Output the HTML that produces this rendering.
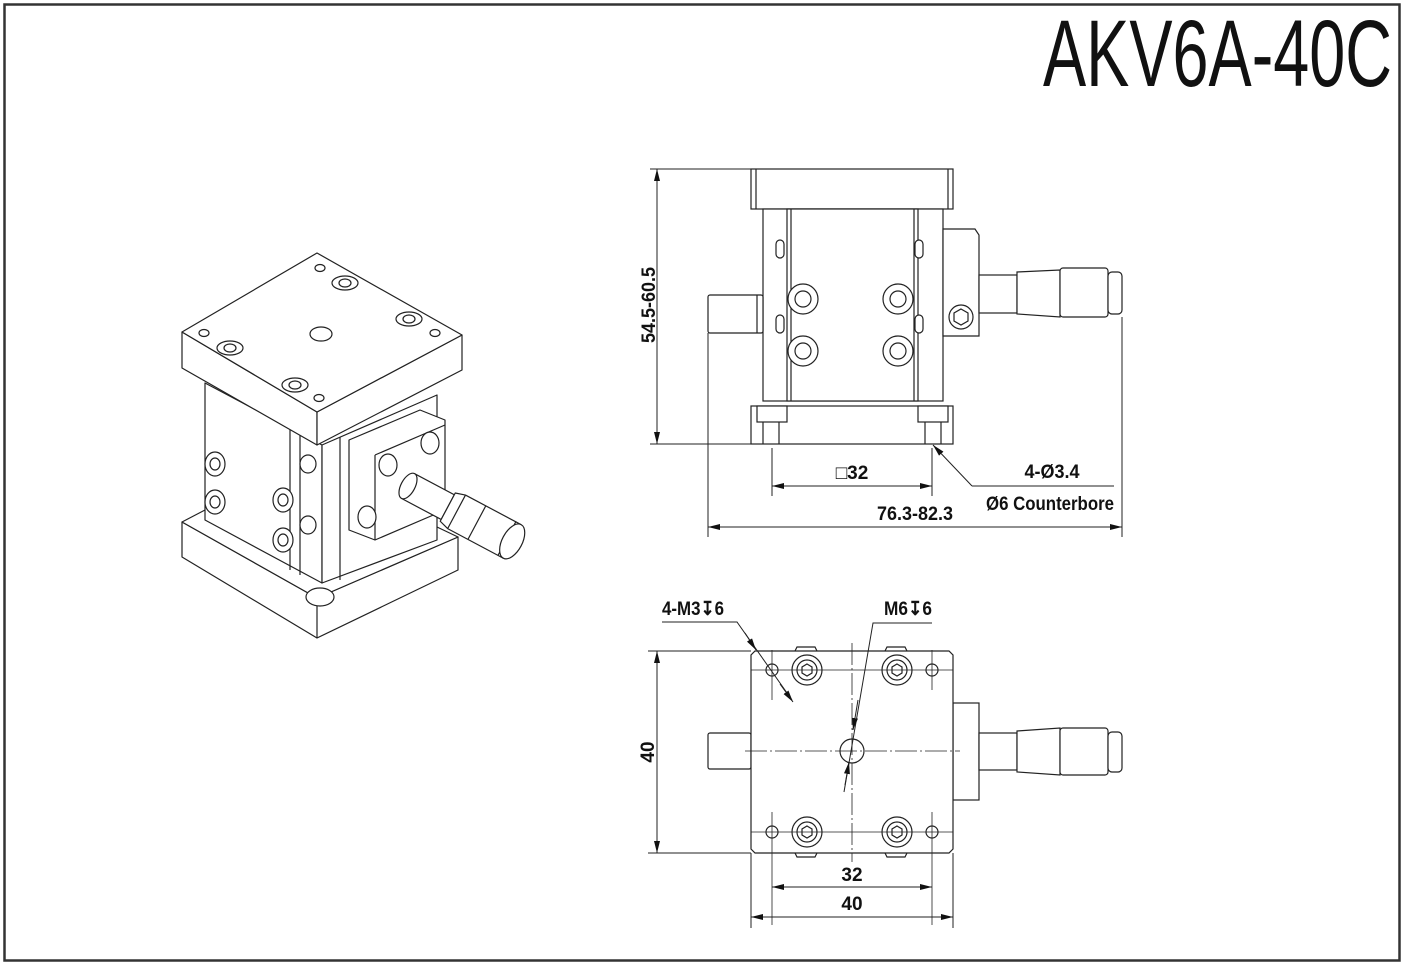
<!DOCTYPE html>
<html><head><meta charset="utf-8"><style>
html,body{margin:0;padding:0;background:#fff}
svg{display:block}
text{font-family:"Liberation Sans",sans-serif;font-weight:bold;fill:#111}
</style></head><body>
<svg width="1404" height="964" viewBox="0 0 1404 964" xmlns="http://www.w3.org/2000/svg">
<defs>
<marker id="ar" markerWidth="12" markerHeight="6" refX="12" refY="3" orient="auto" markerUnits="userSpaceOnUse"><path d="M0,0 L12,3 L0,6 z" fill="#111"/></marker>
</defs>
<rect x="4.5" y="4.5" width="1395" height="956" fill="none" stroke="#333" stroke-width="2.5"/>
<text x="1043" y="86" font-size="95" textLength="349" lengthAdjust="spacingAndGlyphs" style="font-weight:normal">AKV6A-40C</text>

<!-- Isometric view -->
<g fill="#fff" stroke="#222" stroke-width="1.2" stroke-linejoin="round">
 <path d="M182,522 L317,598 L458,537 L458,570 L317,638 L182,557 Z"/>
 <path d="M182,522 L205,510 L322,575 L437,527 L458,537 L317,598 Z"/>
 <path d="M317,598 L317,638"/>
 <ellipse cx="320" cy="597" rx="14" ry="9"/>
 <path d="M205,383 L322,445 L322,583 L205,520 Z"/>
 <path d="M322,445 L437,395 L437,540 L322,583 Z"/>
 <path d="M290,430 L290,570 M300,435 L300,575"/>
 <path d="M340,437 L340,580"/>
 <path d="M349,440 L420,410 L445,420 L445,510 L375,540 L349,530 Z"/>
 <path d="M375,455 L445,425 M375,455 L375,540"/>
 <g transform="translate(408,486) rotate(28)">
  <rect x="0" y="-14" width="45" height="28"/>
  <ellipse cx="0" cy="0" rx="7" ry="14"/>
  <path d="M45,-16 L55,-19 L112,-19 L112,19 L55,19 L45,16 Z"/>
  <line x1="55" y1="-19" x2="55" y2="19"/><line x1="78" y1="-19" x2="78" y2="19"/>
  <ellipse cx="118" cy="0" rx="10" ry="19"/>
  <path d="M112,-19 L118,-19 M112,19 L118,19"/>
 </g>
 <path d="M182,332 L317,412 L317,445 L182,368 Z"/>
 <path d="M317,412 L462,335 L462,370 L317,445 Z"/>
 <path d="M317,253 L462,335 L317,412 L182,332 Z"/>
 <ellipse cx="321" cy="334" rx="11" ry="7"/>
 <ellipse cx="320" cy="268" rx="5" ry="3.5"/>
 <ellipse cx="204" cy="333" rx="5" ry="3.5"/>
 <ellipse cx="319" cy="398" rx="5" ry="3.5"/>
 <ellipse cx="435" cy="333" rx="5" ry="3.5"/>
 <ellipse cx="345" cy="283" rx="13" ry="7"/><ellipse cx="345" cy="283" rx="6" ry="4"/>
 <ellipse cx="409" cy="319" rx="13" ry="7"/><ellipse cx="409" cy="319" rx="6" ry="4"/>
 <ellipse cx="230" cy="348" rx="13" ry="7"/><ellipse cx="230" cy="348" rx="6" ry="4"/>
 <ellipse cx="295" cy="385" rx="13" ry="7"/><ellipse cx="295" cy="385" rx="6" ry="4"/>
 <ellipse cx="215" cy="464" rx="10" ry="12"/><ellipse cx="215" cy="464" rx="5" ry="6"/>
 <ellipse cx="215" cy="502" rx="10" ry="12"/><ellipse cx="215" cy="502" rx="5" ry="6"/>
 <ellipse cx="283" cy="500" rx="10" ry="12"/><ellipse cx="283" cy="500" rx="5" ry="6"/>
 <ellipse cx="283" cy="540" rx="10" ry="12"/><ellipse cx="283" cy="540" rx="5" ry="6"/>
 <ellipse cx="308" cy="464" rx="8" ry="9"/><ellipse cx="308" cy="525" rx="8" ry="9"/>
 <ellipse cx="388" cy="465" rx="9" ry="11"/><ellipse cx="430" cy="443" rx="9" ry="11"/><ellipse cx="367" cy="517" rx="9" ry="11"/>
</g>

<!-- Front view -->
<g fill="#fff" stroke="#222" stroke-width="1.2">
 <rect x="751" y="169" width="202" height="40"/>
 <line x1="756" y1="169" x2="756" y2="209"/><line x1="948" y1="169" x2="948" y2="209"/>
 <rect x="763" y="209" width="180" height="192"/>
 <rect x="787" y="209" width="131" height="192"/>
 <line x1="791" y1="209" x2="791" y2="401"/><line x1="914" y1="209" x2="914" y2="401"/>
 <rect x="708" y="295" width="55" height="38" rx="2"/>
 <line x1="757" y1="295" x2="757" y2="333"/>
 <path d="M943,229 L975,229 L979,235 L979,336 L943,336 Z"/>
 <rect x="979" y="275" width="38" height="38"/>
 <path d="M1017,272 L1060,270 L1060,317 L1017,314 Z"/>
 <rect x="1060" y="268" width="48" height="49" rx="3"/>
 <rect x="1108" y="272" width="14" height="42" rx="4"/>
 <circle cx="961" cy="317" r="12"/><polygon points="961,309 968,313 968,321 961,325 954,321 954,313"/>
 <rect x="751" y="406" width="202" height="38"/>
 <rect x="757" y="406" width="30" height="16"/><rect x="918" y="406" width="30" height="16"/>
 <line x1="763" y1="422" x2="763" y2="444"/><line x1="779" y1="422" x2="779" y2="444"/>
 <line x1="925" y1="422" x2="925" y2="444"/><line x1="941" y1="422" x2="941" y2="444"/>
 <rect x="776" y="240" width="8" height="18" rx="4"/><rect x="915" y="240" width="8" height="18" rx="4"/>
 <rect x="776" y="315" width="8" height="18" rx="4"/><rect x="915" y="315" width="8" height="18" rx="4"/>
 <g>
  <circle cx="803" cy="299" r="15"/><circle cx="803" cy="299" r="8"/>
  <circle cx="898" cy="299" r="15"/><circle cx="898" cy="299" r="8"/>
  <circle cx="803" cy="351" r="15"/><circle cx="803" cy="351" r="8"/>
  <circle cx="898" cy="351" r="15"/><circle cx="898" cy="351" r="8"/>
 </g>
</g>
<g stroke="#222" stroke-width="1" fill="none">
 <line x1="650" y1="169" x2="751" y2="169"/><line x1="650" y1="444" x2="751" y2="444"/>
 <line x1="657" y1="169" x2="657" y2="444"/>
 <line x1="657" y1="190" x2="657" y2="169" marker-end="url(#ar)"/>
 <line x1="657" y1="420" x2="657" y2="444" marker-end="url(#ar)"/>
 <line x1="772" y1="448" x2="772" y2="496"/><line x1="932" y1="448" x2="932" y2="496"/>
 <line x1="772" y1="486" x2="932" y2="486"/>
 <line x1="800" y1="486" x2="772" y2="486" marker-end="url(#ar)"/>
 <line x1="900" y1="486" x2="932" y2="486" marker-end="url(#ar)"/>
 <line x1="708" y1="333" x2="708" y2="537"/><line x1="1122" y1="317" x2="1122" y2="537"/>
 <line x1="708" y1="527" x2="1122" y2="527"/>
 <line x1="740" y1="527" x2="708" y2="527" marker-end="url(#ar)"/>
 <line x1="1090" y1="527" x2="1122" y2="527" marker-end="url(#ar)"/>
 <polyline points="1114,486 972,486"/>
 <line x1="972" y1="486" x2="933" y2="445" marker-end="url(#ar)"/>
</g>
<text x="0" y="0" font-size="19" transform="translate(655,305) rotate(-90)" text-anchor="middle" textLength="76" lengthAdjust="spacingAndGlyphs">54.5-60.5</text>
<text x="852" y="479" font-size="19" text-anchor="middle">□32</text>
<text x="1052" y="478" font-size="19" text-anchor="middle" textLength="55" lengthAdjust="spacingAndGlyphs">4-Ø3.4</text>
<text x="915" y="520" font-size="19" text-anchor="middle" textLength="76" lengthAdjust="spacingAndGlyphs">76.3-82.3</text>
<text x="1050" y="510" font-size="19" text-anchor="middle" textLength="128" lengthAdjust="spacingAndGlyphs">Ø6 Counterbore</text>

<!-- Top view -->
<g fill="#fff" stroke="#222" stroke-width="1.2">
 <rect x="708" y="733" width="43" height="36" rx="2"/>
 <rect x="953" y="703" width="26" height="97"/>
 <rect x="979" y="733" width="38" height="37"/>
 <path d="M1017,731 L1060,728 L1060,775 L1017,772 Z"/>
 <rect x="1060" y="728" width="48" height="47" rx="3"/>
 <rect x="1108" y="732" width="14" height="40" rx="4"/>
 <path d="M795,651 L797,647 L815,647 L817,651 M885,651 L887,647 L905,647 L907,651"/>
 <path d="M795,853 L797,857 L815,857 L817,853 M885,853 L887,857 L905,857 L907,853"/>
 <path d="M755,651 L949,651 L953,655 L953,849 L949,853 L755,853 L751,849 L751,655 Z"/>
 <circle cx="772" cy="670" r="6"/><circle cx="932" cy="670" r="6"/>
 <circle cx="772" cy="832" r="6"/><circle cx="932" cy="832" r="6"/>
 <circle cx="807" cy="670" r="15"/><circle cx="807" cy="670" r="10"/><polygon points="807,664 812,667 812,673 807,676 802,673 802,667"/>
 <circle cx="897" cy="670" r="15"/><circle cx="897" cy="670" r="10"/><polygon points="897,664 902,667 902,673 897,676 892,673 892,667"/>
 <circle cx="807" cy="832" r="15"/><circle cx="807" cy="832" r="10"/><polygon points="807,826 812,829 812,835 807,838 802,835 802,829"/>
 <circle cx="897" cy="832" r="15"/><circle cx="897" cy="832" r="10"/><polygon points="897,826 902,829 902,835 897,838 892,835 892,829"/>
 <circle cx="852" cy="751" r="12"/>
</g>
<g stroke="#222" stroke-width="0.8" fill="none" stroke-dasharray="22,3,2,3">
 <line x1="745" y1="751" x2="960" y2="751"/>
 <line x1="852" y1="643" x2="852" y2="862"/>
</g>
<g stroke="#222" stroke-width="0.8" fill="none">
 <line x1="751" y1="670" x2="953" y2="670"/><line x1="751" y1="832" x2="953" y2="832"/>
 <line x1="772" y1="650" x2="772" y2="700"/><line x1="932" y1="650" x2="932" y2="690"/>
 <line x1="772" y1="812" x2="772" y2="925"/><line x1="932" y1="812" x2="932" y2="925"/>
</g>
<g stroke="#222" stroke-width="1" fill="none">
 <line x1="648" y1="651" x2="751" y2="651"/><line x1="648" y1="853" x2="751" y2="853"/>
 <line x1="657" y1="651" x2="657" y2="853"/>
 <line x1="657" y1="675" x2="657" y2="651" marker-end="url(#ar)"/>
 <line x1="657" y1="830" x2="657" y2="853" marker-end="url(#ar)"/>
 <line x1="751" y1="853" x2="751" y2="928"/><line x1="953" y1="853" x2="953" y2="928"/>
 <line x1="772" y1="887" x2="932" y2="887"/>
 <line x1="800" y1="887" x2="772" y2="887" marker-end="url(#ar)"/>
 <line x1="905" y1="887" x2="932" y2="887" marker-end="url(#ar)"/>
 <line x1="751" y1="917" x2="953" y2="917"/>
 <line x1="780" y1="917" x2="751" y2="917" marker-end="url(#ar)"/>
 <line x1="925" y1="917" x2="953" y2="917" marker-end="url(#ar)"/>
 <polyline points="662,622 737,622 792,700"/>
 <line x1="745" y1="633" x2="756" y2="650" marker-end="url(#ar)"/>
 <line x1="780" y1="684" x2="793" y2="702" marker-end="url(#ar)"/>
 <polyline points="932,623 873,623 844,792"/>
 <line x1="858" y1="700" x2="853" y2="730" marker-end="url(#ar)"/>
 <line x1="845" y1="785" x2="849" y2="762" marker-end="url(#ar)"/>
</g>
<text x="0" y="0" font-size="19" transform="translate(654,752) rotate(-90)" text-anchor="middle">40</text>
<text x="693" y="615" font-size="19" text-anchor="middle" textLength="62" lengthAdjust="spacingAndGlyphs">4-M3↧6</text>
<text x="908" y="615" font-size="19" text-anchor="middle" textLength="48" lengthAdjust="spacingAndGlyphs">M6↧6</text>
<text x="852" y="881" font-size="19" text-anchor="middle">32</text>
<text x="852" y="910" font-size="19" text-anchor="middle">40</text>
</svg>
</body></html>
